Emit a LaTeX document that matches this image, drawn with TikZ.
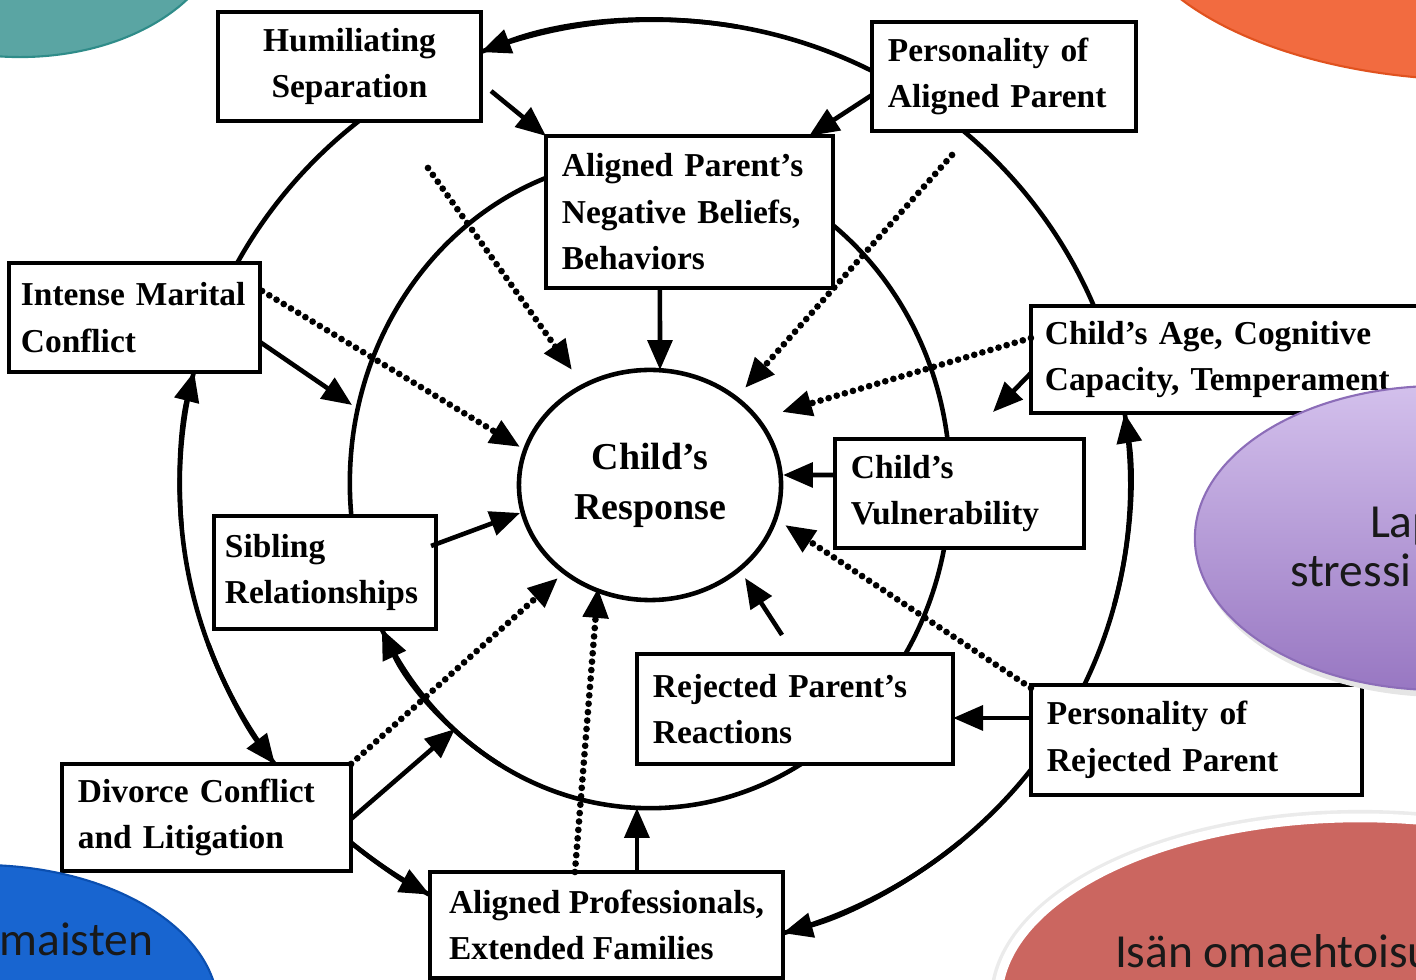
\documentclass[tikz,border=0pt]{standalone}
\usepackage{fontspec}
\setmainfont{Liberation Serif}
\newfontfamily\diag{Liberation Serif}
\newfontfamily\blobfont{Carlito}
\usetikzlibrary{arrows.meta,calc,shapes.geometric}
\definecolor{tealblob}{HTML}{5AA5A3}
\definecolor{tealedge}{HTML}{2F8C89}
\definecolor{orangeblob}{HTML}{F26B40}
\definecolor{orangeedge}{HTML}{E0521F}
\definecolor{purpletop}{HTML}{D3C0EC}
\definecolor{purplebot}{HTML}{9877C2}
\definecolor{purpleedge}{HTML}{8C6DB8}
\definecolor{redblob}{HTML}{CB6660}
\definecolor{blueblob}{HTML}{1865D0}
\definecolor{blueedge}{HTML}{0B4FB0}
\begin{document}
\begin{tikzpicture}[x=0.01cm,y=-0.01cm,
  every node/.style={inner sep=0pt, outer sep=0pt},
  box/.style={draw, line width=1pt, fill=white, inner xsep=0.16cm, align=left,
    font=\diag\bfseries\fontsize{9.5}{13.2}\selectfont},
  circ/.style={line width=1.3pt},
  tipstyle/.style={-{Triangle[length=8.5pt,width=7pt]}},
  arr/.style={line width=1.3pt, tipstyle},
  dots/.style={line width=1.9pt, dash pattern=on 0pt off 2.4pt, line cap=round, tipstyle},
  blobtext/.style={font=\blobfont\fontsize{13.5}{16}\selectfont, text=black!90}
]
\useasboundingbox (0,0) rectangle (1416,980);

% circles
\coordinate (ic) at (650,483);
\coordinate (oc) at (655,485);
\draw[circ] (ic) ellipse [x radius=3cm, y radius=3.25cm];
\draw[circ] (oc) ellipse [x radius=4.75cm, y radius=4.65cm];

% arrowed arc pieces of the outer circle
\draw[arr] ($(oc)+(80:4.75cm and 4.65cm)$) arc [start angle=80, end angle=111.5, x radius=4.75cm, y radius=4.65cm];
\draw[arr] ($(oc)+(185:4.75cm and 4.65cm)$) arc [start angle=185, end angle=165.9, x radius=4.75cm, y radius=4.65cm];
\draw[arr] ($(oc)+(200:4.75cm and 4.65cm)$) arc [start angle=200, end angle=216.9, x radius=4.75cm, y radius=4.65cm];
\draw[arr] ($(oc)+(230.2:4.75cm and 4.65cm)$) arc [start angle=230.2, end angle=241.7, x radius=4.75cm, y radius=4.65cm];
\draw[arr] ($(oc)+(310:4.75cm and 4.65cm)$) arc [start angle=310, end angle=285.6, x radius=4.75cm, y radius=4.65cm];
\draw[arr] ($(oc)+(-15:4.75cm and 4.65cm)$) arc [start angle=-15, end angle=8.9, x radius=4.75cm, y radius=4.65cm];
% arrowed arc piece of the inner circle
\draw[arr] ($(ic)+(240:3cm and 3.25cm)$) arc [start angle=240, end angle=206.7, x radius=3cm, y radius=3.25cm];

% boxes
\node[box, minimum width=2.63cm, minimum height=1.09cm, text width=2.31cm, align=center] (hum) at (349.5,66.5) {Humiliating\\Separation};
\node[box, minimum width=2.64cm, minimum height=1.09cm, text width=2.32cm] (pap) at (1004,76.5) {Personality of\\Aligned Parent};
\node[box, minimum width=2.87cm, minimum height=1.52cm, text width=2.55cm] (apn) at (689.5,212) {Aligned Parent’s\\Negative Beliefs,\\Behaviors};
\node[box, minimum width=2.51cm, minimum height=1.09cm, inner xsep=0.12cm, text width=2.27cm] (imc) at (134.5,317.5) {Intense Marital\\Conflict};
\node[box, minimum width=3.99cm, minimum height=1.07cm, inner xsep=0.14cm, text width=3.71cm] (cag) at (1230.5,359.5) {Child’s Age, Cognitive\\Capacity, Temperament};
\node[box, minimum width=2.49cm, minimum height=1.09cm, text width=2.17cm] (cvu) at (959.5,493.5) {Child’s\\Vulnerability};
\node[box, minimum width=2.22cm, minimum height=1.13cm, inner xsep=0.11cm, text width=2.00cm] (sib) at (325,572.5) {Sibling\\Relationships};
\node[box, minimum width=3.16cm, minimum height=1.10cm, text width=2.84cm] (rpr) at (795,709) {Rejected Parent’s\\Reactions};
\node[box, minimum width=3.31cm, minimum height=1.10cm, text width=2.99cm] (prp) at (1196.5,740) {Personality of\\Rejected Parent};
\node[box, minimum width=2.89cm, minimum height=1.07cm, text width=2.57cm] (dcl) at (206.5,817.5) {Divorce Conflict\\and Litigation};
\node[box, minimum width=3.53cm, minimum height=1.06cm, inner xsep=0.08cm] (apf) at (606.5,925) {Aligned Professionals,\\Extended Families};

% centre
\node[draw, ellipse, line width=1.3pt, fill=white, minimum width=2.62cm, minimum height=2.30cm, align=center,
  font=\diag\bfseries\fontsize{10.8}{14.2}\selectfont] (cr) at (650,485) {Child’s\\Response};

% free ends
\coordinate (d1s) at (428,168);  \coordinate (d1e) at (572,370);
\coordinate (d2s) at (952,155);  \coordinate (d2e) at (745,388);
\coordinate (d3e) at (520,447);
\coordinate (d4e) at (782,412);
\coordinate (d5e) at (558,578);
\coordinate (d6e) at (598,588);
\coordinate (d7e) at (785,525);
\coordinate (s4e) at (352,405);
\coordinate (s5e) at (993,412);
\coordinate (s7e) at (520,513);
\coordinate (s8e) at (455,729);
\coordinate (s10s) at (782,635); \coordinate (s10e) at (745,578);

% solid arrows
\draw[arr] ($(hum.south east)+(10,-30)$) -- (apn.north west);
\draw[arr] ($(pap.south west)+(0,-36)$) -- ($(apn.north east)+(-24,0)$);
\draw[arr] ($(apn.south west)+(114,0)$) -- ($(cr.north)+(10,0)$);
\draw[arr] ($(imc.south east)+(0,-30)$) -- (s4e);
\draw[arr] ($(cag.south west)+(0,-40)$) -- (s5e);
\draw[arr] ($(cvu.north west)+(0,36)$) -- ($(cr.east)+(2,-10)$);
\draw[arr] ($(sib.north east)+(-5,30)$) -- (s7e);
\draw[arr] ($(dcl.north east)+(0,55)$) -- (s8e);
\draw[arr] ($(apf.north west)+(207,0)$) -- ++(0,-64);
\draw[arr] (s10s) -- (s10e);
\draw[arr] ($(prp.north west)+(0,33)$) -- ($(rpr.north east)+(0,64)$);

% dotted arrows
\draw[dots] (d1s) -- (d1e);
\draw[dots] (d2s) -- (d2e);
\draw[dots] ($(imc.north east)+(2,28)$) -- (d3e);
\draw[dots] ($(cag.north west)+(0,32)$) -- (d4e);
\draw[dots] (dcl.north east) -- (d5e);
\draw[dots] ($(apf.north west)+(145,0)$) -- (d6e);
\draw[dots] ($(prp.north west)+(0,3)$) -- (d7e);

% overlay blobs
\path[fill=tealblob, draw=tealedge, line width=0.6pt] (20,-80) ellipse [x radius=2.05cm, y radius=1.37cm];
\path[fill=orangeblob, draw=orangeedge, line width=0.6pt] (1480,-100) ellipse [x radius=3.58cm, y radius=1.80cm];
\path[fill=black!10] (1443,545) ellipse [x radius=2.45cm, y radius=1.52cm];
\path[top color=purpletop, bottom color=purplebot, draw=purpleedge, line width=0.6pt] (1440,538) ellipse [x radius=2.45cm, y radius=1.52cm];
\path[fill=black!8] (1360,1000) ellipse [x radius=3.70cm, y radius=1.90cm];
\path[fill=redblob, draw=white, line width=2.5pt] (1360,1000) ellipse [x radius=3.62cm, y radius=1.82cm];
\path[fill=blueblob, draw=blueedge, line width=0.6pt] (-20,1010) ellipse [x radius=2.38cm, y radius=1.45cm];

\node[blobtext, anchor=base west] (lap) at (1370,538) {Lap};
\node[blobtext, anchor=base west] (stressi) at (1290,587) {stressi};
\node[blobtext, anchor=base west] (isan) at (1115,967) {Isän omaehtoisu};
\node[blobtext, anchor=base east] (maisten) at (153,955) {maisten};
\end{tikzpicture}
\end{document}
